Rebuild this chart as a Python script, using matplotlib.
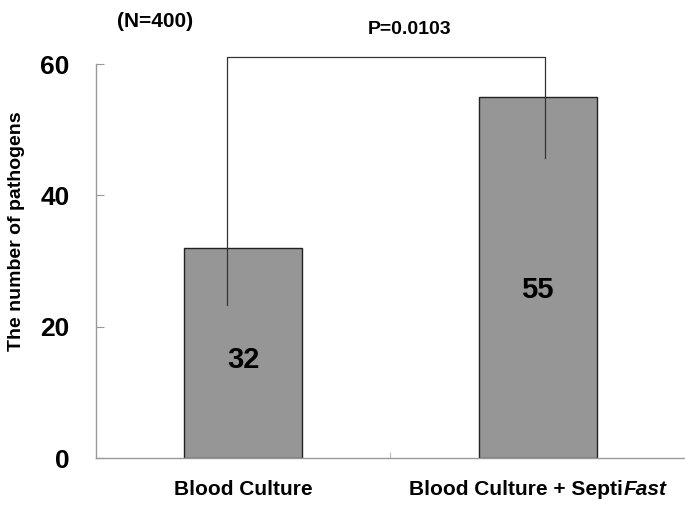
import matplotlib
matplotlib.use('Agg')
import matplotlib.pyplot as plt
from matplotlib.offsetbox import TextArea, HPacker, AnnotationBbox

plt.rcParams['font.family'] = ['Liberation Sans', 'DejaVu Sans']

categories = ['Blood Culture', 'Blood Culture + Septi']
label_suffix = ['', 'Fast']
values = [32, 55]
yticks = [0, 20, 40, 60]
p_text = 'P=0.0103'
n_text = '(N=400)'

fig = plt.figure(figsize=(6.85, 5.05), dpi=100)
ax = fig.add_axes([0.140, 0.093, 0.860, 0.780])

x = [0, 1]
ax.bar(x, values, width=0.40, color='#969696', edgecolor='#222222', linewidth=1.0, zorder=2)

for xi, v in zip(x, values):
    ax.text(xi, v * 0.465, str(v), ha='center', va='center', fontsize=21, fontweight='bold', zorder=4)

# significance bracket
ax.plot([-0.055, -0.055, 1.025, 1.025], [23.3, 61.1, 61.1, 45.7],
        color='#333333', linewidth=0.9, clip_on=False, zorder=3)
ax.text(0.565, 65.3, p_text, ha='center', va='center', fontsize=14, fontweight='bold')
ax.text(-0.30, 66.5, n_text, ha='center', va='center', fontsize=15, fontweight='bold')

ax.set_xlim(-0.5, 1.5)
ax.set_ylim(0, 60)
ax.set_yticks(yticks)
ax.set_yticklabels([str(t) for t in yticks], fontsize=19, fontweight='bold')
ax.tick_params(axis='y', direction='in', length=6, color='#999999', pad=19)
ax.set_xticks([0.5])
ax.set_xticklabels([''])
ax.tick_params(axis='x', direction='in', length=4, color='#bbbbbb')

for s in ['top', 'right']:
    ax.spines[s].set_visible(False)
for s in ['left', 'bottom']:
    ax.spines[s].set_color('#999999')
    ax.spines[s].set_linewidth(1.0)

ax.set_ylabel('The number of pathogens', fontsize=14, fontweight='bold')
ax.yaxis.set_label_coords(-0.12, 0.575)

# category labels (with italic part)
for xi, cat, suf in zip(x, categories, label_suffix):
    parts = [TextArea(cat, textprops=dict(fontsize=15, fontweight='bold'))]
    if suf:
        parts.append(TextArea(suf, textprops=dict(fontsize=15, fontweight='bold', style='italic')))
    box = HPacker(children=parts, align='baseline', pad=0, sep=1)
    ab = AnnotationBbox(box, (xi, 0), xybox=(0, -23), xycoords=('data', 'axes fraction'),
                        boxcoords='offset points', frameon=False, box_alignment=(0.5, 0.5),
                        annotation_clip=False)
    ax.add_artist(ab)

fig.savefig('out.png', dpi=100)
